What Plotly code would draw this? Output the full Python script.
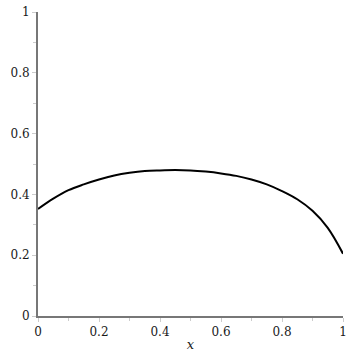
import plotly.graph_objects as go

x = [0.0, 0.05, 0.1, 0.15, 0.2, 0.25, 0.3, 0.35, 0.4, 0.45, 0.5,
     0.55, 0.6, 0.65, 0.7, 0.75, 0.8, 0.85, 0.9, 0.95, 1.0]
y = [0.352, 0.386, 0.414, 0.433, 0.449, 0.462, 0.471, 0.477, 0.479, 0.480, 0.479,
     0.475, 0.469, 0.461, 0.449, 0.433, 0.411, 0.384, 0.346, 0.290, 0.205]

tick_vals = [0, 0.2, 0.4, 0.6, 0.8, 1]
tick_text = ["0", "0.2", "0.4", "0.6", "0.8", "1"]

serif = "DejaVu Serif"

fig = go.Figure()
fig.add_trace(go.Scatter(x=x, y=y, mode="lines", cliponaxis=False,
                         line=dict(color="black", width=2, shape="spline", smoothing=1),
                         hoverinfo="skip"))

axis_style = dict(range=[0, 1], tickvals=tick_vals, ticktext=tick_text,
                  showgrid=False, zeroline=False, showline=True, automargin=False,
                  linecolor="#777777", linewidth=2,
                  ticks="outside", ticklen=4, tickcolor="#cccccc", tickwidth=1,
                  minor=dict(ticks="outside", dtick=0.1, ticklen=3, tickcolor="#cccccc"),
                  tickfont=dict(family=serif, size=12, color="#1a1a1a"))

fig.update_xaxes(**axis_style, title=dict(text="<i>x</i>", standoff=1,
                 font=dict(family=serif, size=13, color="#1a1a1a")))
fig.update_yaxes(**axis_style)

fig.update_layout(width=353, height=353, showlegend=False,
                  font=dict(family=serif),
                  plot_bgcolor="white", paper_bgcolor="white",
                  margin=dict(l=38, r=10, t=12, b=37))

fig.write_html("out.html", config={"displayModeBar": False},
               post_script="document.body.style.margin='0';")
